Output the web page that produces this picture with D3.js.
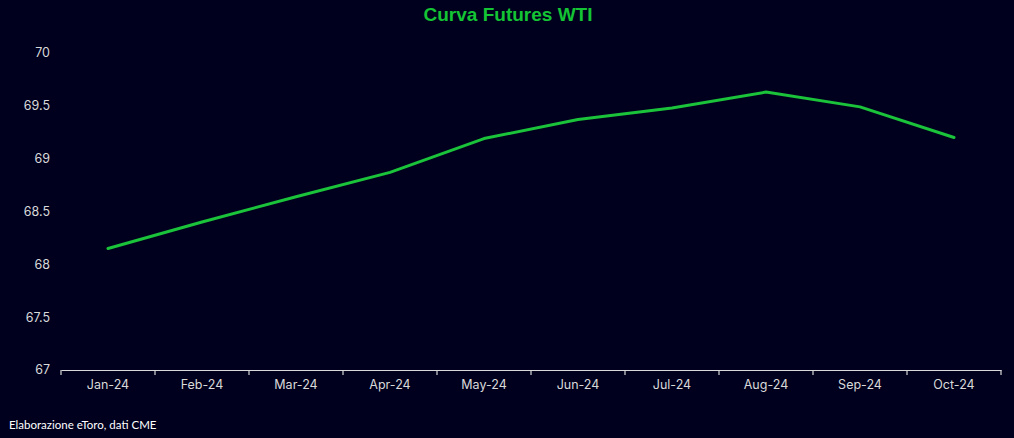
<!DOCTYPE html>
<html><head><meta charset="utf-8">
<script src="https://cdn.jsdelivr.net/npm/d3@7"></script>
<style>
html,body{margin:0;padding:0;background:#00001e;}
svg{display:block;}
</style></head>
<body>
<svg id="chart" width="1014" height="438"></svg>
<script>
const categories = ["Jan-24","Feb-24","Mar-24","Apr-24","May-24","Jun-24","Jul-24","Aug-24","Sep-24","Oct-24"];
const values = [68.15, 68.40, 68.64, 68.87, 69.19, 69.37, 69.48, 69.63, 69.49, 69.20];
const yTicks = [67, 67.5, 68, 68.5, 69, 69.5, 70];
const title = "Curva Futures WTI";
const source = "Elaborazione eToro, dati CME";

(function(){
const svg = d3.select("#chart");
const W = 1014, H = 438;
svg.append("rect").attr("width", W).attr("height", H).attr("fill", "#00001e");

const mLeft = 61, mRight = 1001, mTop = 53, mBottom = 370;
const x = d3.scaleBand().domain(categories).range([mLeft, mRight]).padding(0);
const y = d3.scaleLinear().domain([67, 70]).range([mBottom, mTop]);

const textColor = "#d9d9d9";
const font = "Inter, 'Liberation Sans', Arial, sans-serif";

// title
svg.append("text").attr("x", 508).attr("y", 21).attr("text-anchor", "middle")
  .attr("font-family", "'Liberation Sans', Arial, sans-serif").attr("font-weight", "bold")
  .attr("font-size", 19).attr("fill", "#14c434").text(title);

// y axis labels
svg.append("g").selectAll("text").data(yTicks).join("text")
  .attr("x", 50).attr("y", d => y(d)).attr("dy", "0.35em").attr("text-anchor", "end")
  .attr("font-family", font).attr("font-size", 12.5).attr("fill", textColor)
  .text(d => d);

// x axis
const xAxis = d3.axisBottom(x).tickSize(0).tickPadding(10);
const gx = svg.append("g").attr("transform", `translate(0,${mBottom})`).call(xAxis);
gx.select(".domain").attr("stroke", "#d9d9d9").attr("stroke-width", 1.2);
gx.selectAll("text").attr("font-family", font).attr("font-size", 12.5).attr("fill", textColor);
const bounds = categories.map(c => x(c)).concat([mRight]);
gx.selectAll("line.bt").data(bounds).join("line").attr("class", "bt")
  .attr("x1", d => d).attr("x2", d => d).attr("y1", 0).attr("y2", 5)
  .attr("stroke", "#d9d9d9").attr("stroke-width", 1.2);

// line
const line = d3.line().x((d, i) => x(categories[i]) + x.bandwidth() / 2).y(d => y(d));
svg.append("path").datum(values).attr("d", line).attr("fill", "none")
  .attr("stroke", "#1ac33a").attr("stroke-width", 3).attr("stroke-linejoin", "round").attr("stroke-linecap", "round");

// source
svg.append("text").attr("x", 9).attr("y", 429)
  .attr("font-family", "Lato, 'Open Sans', sans-serif").attr("font-size", 11.5).attr("fill", "#ffffff")
  .text(source);
})();
</script>
</body></html>
